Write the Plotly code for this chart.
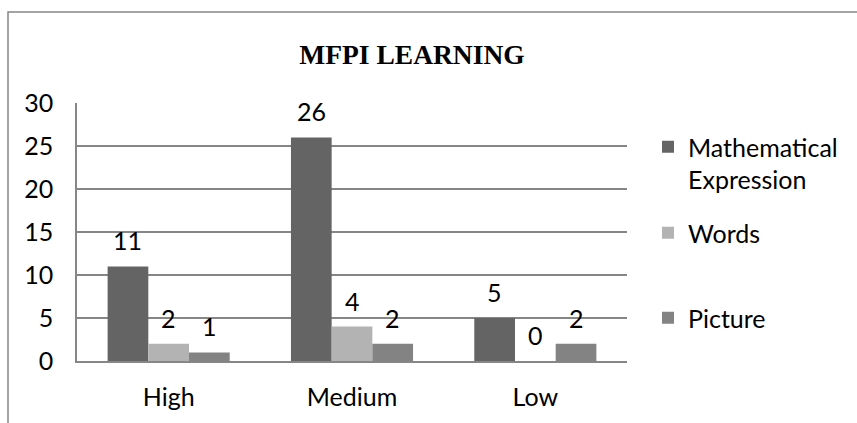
import plotly.graph_objects as go

categories = ["High", "Medium", "Low"]
series_names = ["Mathematical<br>Expression", "Words", "Picture"]
math_expr = [11, 26, 5]
words = [2, 4, 0]
picture = [1, 2, 2]
y_ticks = [0, 5, 10, 15, 20, 25, 30]

colors = ["#646464", "#b3b3b3", "#838383"]
FONT = "Lato"
FS = 25
W, H = 857, 423
L, R, T, B = 77, 230, 103, 62
plot_w = W - L - R
bargap = 0.334
bar_px = plot_w / len(categories) * (1 - bargap) / 3

fig = go.Figure()
all_series = [math_expr, words, picture]
legend_ids = ["legend", "legend2", "legend3"]
for name, vals, col, lg in zip(series_names, all_series, colors, legend_ids):
    fig.add_trace(go.Bar(x=categories, y=vals, name=name, marker_color=col,
                         marker_line_width=0, legend=lg, showlegend=True))

# data labels
for si, vals in enumerate(all_series):
    for c, v in zip(categories, vals):
        fig.add_annotation(x=c, y=v, text=str(v), showarrow=False,
                           xshift=(si - 1) * bar_px, yshift=9, yanchor="bottom",
                           font=dict(family=FONT, size=FS, color="#000"))

# outer frame (top and left edges visible)
fig.add_shape(type="rect", xref="paper", yref="paper",
              x0=(8 - L) / plot_w, x1=2, y0=-1, y1=(H - B - 12) / (H - T - B),
              line=dict(color="#868686", width=1.5), layer="below")

leg_common = dict(font=dict(family=FONT, size=FS, color="#000"), bgcolor="rgba(0,0,0,0)",
                  xref="container", yref="container", xanchor="left", yanchor="top",
                  borderwidth=0, visible=True)
fig.update_layout(
    width=W, height=H,
    showlegend=True,
    margin=dict(l=L, r=R, t=T, b=B, autoexpand=False),
    paper_bgcolor="white", plot_bgcolor="white",
    barmode="group", bargap=bargap, bargroupgap=0,
    title=dict(text="<b>MFPI LEARNING</b>", x=412 / W, xanchor="center",
               y=1 - 54 / H, yanchor="middle",
               font=dict(family="Liberation Serif", size=27.5, color="#000")),
    legend=dict(x=648 / W, y=1 - 124 / H, valign="top", **leg_common),
    legend2=dict(x=648 / W, y=1 - 210 / H, **leg_common),
    legend3=dict(x=648 / W, y=1 - 295 / H, **leg_common),
    xaxis=dict(showgrid=False, showline=True, linecolor="#868686", linewidth=1.5,
               ticks="", ticklabelstandoff=13,
               tickfont=dict(family=FONT, size=FS, color="#000")),
    yaxis=dict(range=[0, 30], tickvals=y_ticks, showgrid=True, gridcolor="#868686",
               gridwidth=1.5, showline=True, linecolor="#868686", linewidth=1.5,
               ticks="", ticklabelstandoff=17, zeroline=False,
               tickfont=dict(family=FONT, size=FS, color="#000")),
)
fig.write_html("out.html")
